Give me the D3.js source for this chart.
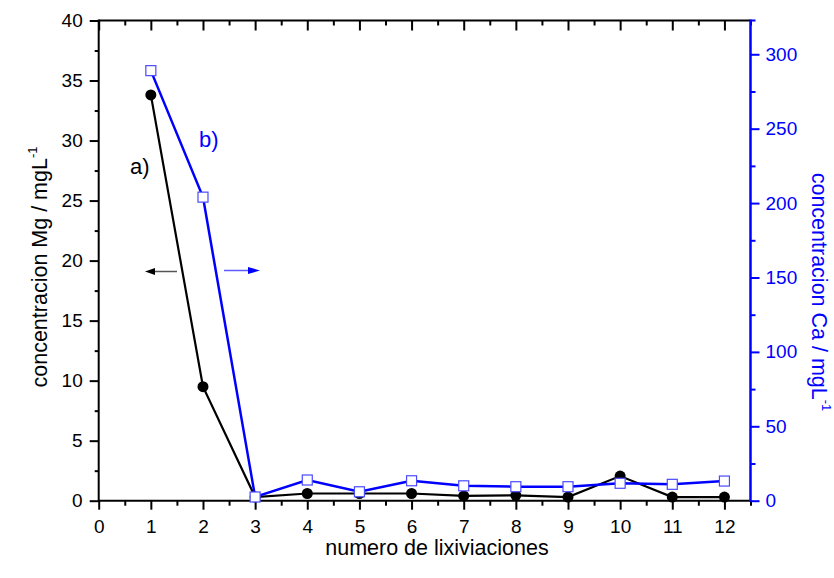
<!DOCTYPE html>
<html><head><meta charset="utf-8">
<script src="https://cdn.jsdelivr.net/npm/d3@7"></script>
<style>body{margin:0;background:#fff}svg{display:block}text{font-family:"Liberation Sans",Arial,sans-serif}</style>
</head><body>
<svg id="c" width="834" height="578"></svg>
<script>
const lixiviaciones = [1,2,3,4,5,6,7,8,9,10,11,12];
const mgValues = [33.8,9.5,0.3,0.6,0.6,0.6,0.4,0.45,0.3,2.05,0.3,0.3];
const caValues = [289,204,2.5,13.9,6,13.4,10,9.4,9.4,11.7,11,13.2];
const xTicks = [0,1,2,3,4,5,6,7,8,9,10,11,12];
const yLeftTicks = [0,5,10,15,20,25,30,35,40];
const yRightTicks = [0,50,100,150,200,250,300];

const svg = d3.select("#c");
const L=98.7, R=750.5, T=20.5, B=500.7;
const x = d3.scaleLinear().domain([0,12.5]).range([L,R]);
const yL = d3.scaleLinear().domain([0,40]).range([B,T]);
const yR = d3.scaleLinear().domain([0,322.7]).range([B,T]);
const blue="#0000ff";

function minorTicks(step, max){const a=[];for(let v=step/2; v<=max+1e-9; v+=step) a.push(+v.toFixed(4));return a;}

const F = 19;
// bottom axis
svg.append("g").attr("transform",`translate(0,${B})`)
  .call(d3.axisBottom(x).tickValues(minorTicks(1,12.5)).tickSize(5).tickFormat(""));
svg.append("g").attr("transform",`translate(0,${B})`)
  .call(d3.axisBottom(x).tickValues(xTicks).tickSize(9).tickPadding(10).tickFormat(d3.format("d")));
// top axis
svg.append("g").attr("transform",`translate(0,${T})`)
  .call(d3.axisBottom(x).tickValues(minorTicks(1,12.5)).tickSize(5).tickFormat(""));
svg.append("g").attr("transform",`translate(0,${T})`)
  .call(d3.axisBottom(x).tickValues(xTicks).tickSize(10).tickFormat(""));
// left axis
svg.append("g").attr("transform",`translate(${L},0)`)
  .call(d3.axisLeft(yL).tickValues(minorTicks(5,40)).tickSize(4).tickFormat(""));
svg.append("g").attr("transform",`translate(${L},0)`)
  .call(d3.axisLeft(yL).tickValues(yLeftTicks).tickSize(9).tickPadding(7).tickFormat(d3.format("d")));
// right axis
const gR1 = svg.append("g").attr("transform",`translate(${R},0)`)
  .call(d3.axisRight(yR).tickValues(minorTicks(50,322)).tickSize(5).tickFormat(""));
const gR2 = svg.append("g").attr("transform",`translate(${R},0)`)
  .call(d3.axisRight(yR).tickValues(yRightTicks).tickSize(9).tickPadding(6).tickFormat(d3.format("d")));

svg.selectAll(".domain").remove();
svg.selectAll(".tick line").attr("stroke","#000").style("stroke-width","2px");
svg.selectAll(".tick text").attr("font-size",F).attr("fill","#000").attr("font-family","'Liberation Sans',Arial,sans-serif");
[gR1,gR2].forEach(g=>{g.selectAll(".tick line").attr("stroke",blue);g.selectAll(".tick text").attr("fill",blue);});

svg.append("line").attr("x1",L).attr("x2",R).attr("y1",B).attr("y2",B).attr("stroke","#000").attr("stroke-width",2);
svg.append("line").attr("x1",L).attr("x2",R).attr("y1",T).attr("y2",T).attr("stroke","#000").attr("stroke-width",2);
svg.append("line").attr("x1",L).attr("x2",L).attr("y1",T-1).attr("y2",B+1).attr("stroke","#000").attr("stroke-width",2);
svg.append("line").attr("x1",R).attr("x2",R).attr("y1",T-1).attr("y2",B+1).attr("stroke",blue).attr("stroke-width",2.5);
svg.append("line").attr("x1",R).attr("x2",R+5).attr("y1",T).attr("y2",T).attr("stroke",blue).attr("stroke-width",2);

// lines
const lineMg = d3.line().x((d,i)=>x(lixiviaciones[i])).y(d=>yL(d));
const lineCa = d3.line().x((d,i)=>x(lixiviaciones[i])).y(d=>yR(d));
svg.append("path").attr("d",lineMg(mgValues)).attr("fill","none").attr("stroke","#000").attr("stroke-width",2.2);
svg.append("path").attr("d",lineCa(caValues)).attr("fill","none").attr("stroke",blue).attr("stroke-width",2.5);
svg.selectAll("circle.mg").data(mgValues).enter().append("circle")
  .attr("cx",(d,i)=>x(lixiviaciones[i])).attr("cy",d=>yL(d)).attr("r",5.5).attr("fill","#000");
svg.selectAll("rect.ca").data(caValues).enter().append("rect")
  .attr("x",(d,i)=>x(lixiviaciones[i])-5).attr("y",d=>yR(d)-5).attr("width",10).attr("height",10)
  .attr("fill","#fff").attr("stroke","#4a4aff").attr("stroke-width",1.2);

// axis titles
svg.append("text").attr("x",437).attr("y",555).attr("text-anchor","middle").attr("font-size",21.5).text("numero de lixiviaciones");
const tl = svg.append("text").attr("transform",`translate(47,267) rotate(-90)`).attr("text-anchor","middle").attr("font-size",21.5);
tl.append("tspan").text("concentracion Mg / mgL");
tl.append("tspan").attr("font-size",13).attr("dy",-10).text("-1");
const tr = svg.append("text").attr("transform",`translate(812,292) rotate(90)`).attr("text-anchor","middle").attr("font-size",21.5).attr("fill",blue);
tr.append("tspan").text("concentracion Ca / mgL");
tr.append("tspan").attr("font-size",13).attr("dy",-10).text("-1");

// annotations
svg.append("text").attr("x",130).attr("y",174).attr("font-size",22).text("a)");
svg.append("text").attr("x",199).attr("y",147).attr("font-size",22).attr("fill",blue).text("b)");
svg.append("line").attr("x1",177).attr("x2",152).attr("y1",271.5).attr("y2",271.5).attr("stroke","#555").attr("stroke-width",1.5);
svg.append("path").attr("d","M145,271.5 L155,268 L155,275 Z").attr("fill","#000");
svg.append("line").attr("x1",224).attr("x2",252).attr("y1",270.5).attr("y2",270.5).attr("stroke","#5a5aff").attr("stroke-width",1.5);
svg.append("path").attr("d","M260,270.5 L248,267 L248,274 Z").attr("fill",blue);
</script>
</body></html>
